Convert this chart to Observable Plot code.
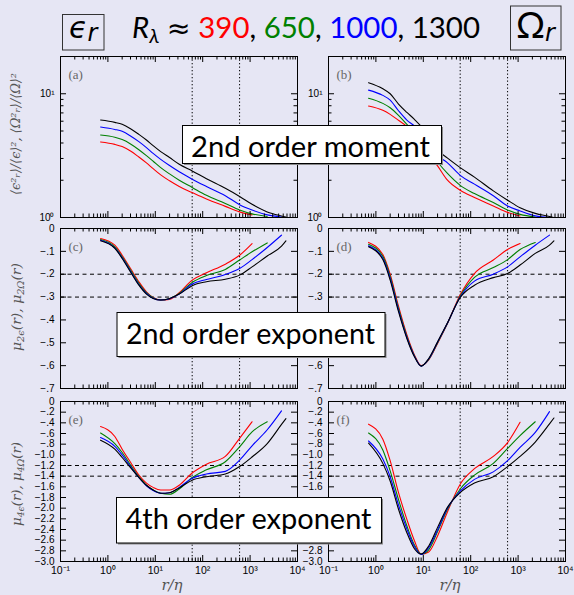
<!DOCTYPE html>
<html><head><meta charset="utf-8">
<script src="https://cdn.jsdelivr.net/npm/d3@7"></script>
<script src="https://cdn.jsdelivr.net/npm/@observablehq/plot@0.6"></script>
<style>
html,body{margin:0;padding:0;background:#e6e6f4;}
#wrap{position:relative;width:574px;height:595px;background:#e6e6f4;overflow:hidden;}
#wrap svg{position:absolute;overflow:visible;}
</style></head><body><div id="wrap"></div>
<script>
// ---------------- data ----------------
const rEta = [0.7, 1.4, 2, 3, 4.5, 6.5, 9, 13, 20, 32, 60, 120, 300, 600, 1100, 2300, 4600, 5700];
const seriesNames = ["390", "650", "1000", "1300"];
const seriesColors = ["#ff0000", "#008000", "#0000ff", "#000000"];

// (a) <eps_r^2>/<eps>^2
const momEps390  = [4.08, 3.90, 3.74, 3.45, 3.08, 2.76, 2.48, 2.21, 1.98, 1.78, 1.59, 1.41, 1.23, 1.11, 1.05];
const momEps650  = [4.64, 4.45, 4.26, 3.93, 3.53, 3.16, 2.85, 2.53, 2.25, 2.00, 1.75, 1.51, 1.30, 1.15, 1.07, 1.02];
const momEps1000 = [5.39, 5.15, 4.97, 4.56, 4.10, 3.67, 3.30, 2.95, 2.63, 2.34, 2.04, 1.78, 1.50, 1.27, 1.15, 1.05, 1.01];
const momEps1300 = [6.13, 5.87, 5.66, 5.22, 4.70, 4.23, 3.81, 3.41, 3.05, 2.69, 2.38, 2.06, 1.72, 1.48, 1.28, 1.11, 1.03, 1.01];
// (b) <Om_r^2>/<Om>^2
const momOm390  = [7.95, 7.34, 6.81, 6.10, 5.42, 4.56, 3.90, 3.24, 2.61, 2.01, 1.66, 1.45, 1.24, 1.10, 1.03];
const momOm650  = [9.20, 8.36, 7.71, 6.69, 5.66, 4.91, 4.28, 3.49, 2.81, 2.28, 1.82, 1.56, 1.32, 1.15, 1.06, 1.01];
const momOm1000 = [10.7, 9.70, 8.89, 7.29, 6.13, 5.49, 4.85, 3.95, 3.18, 2.78, 2.19, 1.86, 1.50, 1.24, 1.13, 1.03, 1.00];
const momOm1300 = [12.27, 10.97, 10.0, 8.26, 7.07, 6.21, 5.45, 4.48, 3.51, 3.03, 2.53, 2.12, 1.64, 1.38, 1.20, 1.08, 1.02, 1.00];
// (c) mu_2eps
const mu2Eps390  = [-0.044, -0.073, -0.117, -0.175, -0.233, -0.277, -0.302, -0.313, -0.310, -0.281, -0.226, -0.194, -0.156, -0.117, -0.066];
const mu2Eps650  = [-0.048, -0.080, -0.124, -0.182, -0.240, -0.281, -0.303, -0.313, -0.307, -0.284, -0.236, -0.206, -0.179, -0.138, -0.102, -0.063];
const mu2Eps1000 = [-0.051, -0.085, -0.128, -0.187, -0.245, -0.284, -0.305, -0.313, -0.307, -0.287, -0.243, -0.223, -0.201, -0.175, -0.136, -0.083, -0.029];
const mu2Eps1300 = [-0.054, -0.087, -0.131, -0.190, -0.248, -0.287, -0.306, -0.313, -0.306, -0.287, -0.250, -0.233, -0.222, -0.204, -0.168, -0.120, -0.077, -0.054];
// (d) mu_2Om
const mu2Om390  = [-0.061, -0.114, -0.200, -0.340, -0.465, -0.553, -0.600, -0.575, -0.503, -0.418, -0.290, -0.197, -0.138, -0.092, -0.066];
const mu2Om650  = [-0.069, -0.122, -0.210, -0.350, -0.472, -0.557, -0.601, -0.573, -0.500, -0.417, -0.296, -0.214, -0.171, -0.136, -0.092, -0.061];
const mu2Om1000 = [-0.076, -0.130, -0.218, -0.357, -0.477, -0.559, -0.602, -0.571, -0.498, -0.416, -0.300, -0.230, -0.200, -0.168, -0.124, -0.073, -0.029];
const mu2Om1300 = [-0.080, -0.136, -0.226, -0.364, -0.481, -0.561, -0.602, -0.569, -0.496, -0.415, -0.302, -0.248, -0.215, -0.197, -0.160, -0.109, -0.073, -0.054];
// (e) mu_4eps
const mu4Eps390  = [-0.47, -0.656, -0.894, -1.14, -1.38, -1.53, -1.61, -1.66, -1.66, -1.57, -1.34, -1.175, -1.03, -0.69, -0.38];
const mu4Eps650  = [-0.59, -0.79, -0.956, -1.19, -1.41, -1.57, -1.66, -1.72, -1.74, -1.64, -1.425, -1.28, -1.13, -0.85, -0.57, -0.38];
const mu4Eps1000 = [-0.675, -0.84, -1.00, -1.22, -1.425, -1.58, -1.67, -1.72, -1.71, -1.61, -1.44, -1.36, -1.31, -1.10, -0.83, -0.53, -0.175];
const mu4Eps1300 = [-0.725, -0.894, -1.05, -1.24, -1.425, -1.57, -1.66, -1.72, -1.71, -1.62, -1.475, -1.41, -1.36, -1.22, -1.04, -0.79, -0.43, -0.32];
// (f) mu_4Om
const mu4Om390  = [-0.425, -0.706, -1.11, -1.71, -2.21, -2.61, -2.86, -2.82, -2.52, -2.08, -1.55, -1.26, -1.03, -0.77, -0.39];
const mu4Om650  = [-0.59, -0.91, -1.30, -1.84, -2.33, -2.69, -2.86, -2.78, -2.44, -2.03, -1.64, -1.38, -1.16, -0.88, -0.64, -0.38];
const mu4Om1000 = [-0.74, -1.08, -1.41, -1.94, -2.39, -2.72, -2.87, -2.74, -2.41, -2.01, -1.68, -1.46, -1.32, -1.11, -0.86, -0.58, -0.19];
const mu4Om1300 = [-0.78, -1.16, -1.49, -2.02, -2.46, -2.76, -2.86, -2.71, -2.36, -1.99, -1.71, -1.53, -1.41, -1.22, -1.03, -0.76, -0.42, -0.31];

// reference lines and ticks
const vLines = [60, 600];
const hLines2 = [-0.2, -0.3];
const hLines4 = [-1.2, -1.4];
const xMajor = [0.1, 1, 10, 100, 1000, 10000];
const xMinor = [0.2,0.3,0.4,0.5,0.6,0.7,0.8,0.9, 2,3,4,5,6,7,8,9, 20,30,40,50,60,70,80,90, 200,300,400,500,600,700,800,900, 2000,3000,4000,5000,6000,7000,8000,9000];
const yMajorMom = [1, 10];
const yMinorMom = [2,3,4,5,6,7,8,9];
const yTicks2 = [0, -0.1, -0.2, -0.3, -0.4, -0.5, -0.6, -0.7];
const yTicks4 = [0, -0.2, -0.4, -0.6, -0.8, -1.0, -1.2, -1.4, -1.6, -1.8, -2.0, -2.2, -2.4, -2.6, -2.8, -3.0];
// labels of the right-hand panels that sit under the overlay boxes are not shown
const yLabels2Right = [0, -0.1, -0.2, -0.3, -0.6, -0.7];
const yLabels4Right = [0, -0.2, -0.4, -0.6, -0.8, -1.0, -1.2, -1.4, -1.6, -2.8, -3.0];
const supMap = {"-1":"⁻¹","0":"⁰","1":"¹","2":"²","3":"³","4":"⁴"};
const fmtPow = d => "10" + supMap[String(Math.round(Math.log10(d)))];
const fmtLin = d => d === 0 ? "0" : "−" + Math.abs(d).toFixed(1).replace(/^0/, "");

// ---------------- layout ----------------
const wrap = document.getElementById("wrap");
const colsX = [{left:0, width:300, mL:60, mR:3}, {left:300, width:274, mL:28, mR:9}];
const rowsY = [{top:46, height:179, mT:10, mB:8}, {top:218, height:178, mT:10, mB:8}, {top:391, height:204, mT:10, mB:34}];

function panel(cfg) {
  const C = colsX[cfg.col], R = rowsY[cfg.row];
  const fh = R.height - R.mT - R.mB, fw = C.width - C.mL - C.mR;
  const marks = [];
  marks.push(Plot.ruleX(vLines, {stroke:"#000", strokeWidth:1, strokeDasharray:"1.3,2.2"}));
  if (cfg.hLines) marks.push(Plot.ruleY(cfg.hLines, {stroke:"#000", strokeWidth:1, strokeDasharray:"4,3.5"}));
  cfg.series.forEach((arr, k) => {
    const rows = arr.map((v, i) => ({r: rEta[i], v, s: seriesNames[k]}));
    marks.push(Plot.line(rows, {x:"r", y:"v", stroke: seriesColors[k], strokeWidth:1.1, curve:"monotone-x"}));
  });
  // inward ticks, all four sides
  marks.push(
    Plot.ruleX(xMajor, {stroke:"#000", insetBottom: fh - 6}),
    Plot.ruleX(xMajor, {stroke:"#000", insetTop: fh - 6}),
    Plot.ruleX(xMinor, {stroke:"#000", insetBottom: fh - 3.5}),
    Plot.ruleX(xMinor, {stroke:"#000", insetTop: fh - 3.5}),
    Plot.ruleY(cfg.yTicks, {stroke:"#000", insetRight: fw - 6}),
    Plot.ruleY(cfg.yTicks, {stroke:"#000", insetLeft: fw - 6})
  );
  if (cfg.yMinor) marks.push(
    Plot.ruleY(cfg.yMinor, {stroke:"#000", insetRight: fw - 3.5}),
    Plot.ruleY(cfg.yMinor, {stroke:"#000", insetLeft: fw - 3.5})
  );
  marks.push(Plot.frame({stroke:"#000", strokeWidth:1}));
  marks.push(Plot.axisY({ticks: cfg.yLabels || cfg.yTicks, tickFormat: cfg.yFmt, tickSize:0, tickPadding:6, anchor:"left", label:null, fontSize:10}));
  if (cfg.row === 2) marks.push(Plot.axisX({ticks: xMajor, tickFormat: fmtPow, tickSize:0, tickPadding:5, anchor:"bottom", label:null, fontSize:10.5}));
  marks.push(Plot.text([cfg.label], {frameAnchor:"top-left", dx:8, dy:18, lineAnchor:"middle", fontFamily:"Liberation Serif, serif", fontSize:13, fill:"#666"}));
  const svg = Plot.plot({
    width: C.width, height: R.height,
    marginLeft: C.mL, marginRight: C.mR, marginTop: R.mT, marginBottom: R.mB,
    x: {type:"log", domain:[0.1, 10000], axis:null, label:null},
    y: {type: cfg.yType, domain: cfg.yDomain, axis:null, label:null},
    style: {background:"transparent", fontFamily:"Liberation Sans, Arial, sans-serif", fontSize:"10px", color:"#000", overflow:"visible"},
    marks
  });
  svg.style.position = "absolute";
  svg.style.left = C.left + "px";
  svg.style.top = R.top + "px";
  wrap.appendChild(svg);
}

panel({col:0, row:0, label:"(a)", series:[momEps390, momEps650, momEps1000, momEps1300], yType:"log", yDomain:[1, 20], yTicks:yMajorMom, yMinor:yMinorMom, yFmt:fmtPow});
panel({col:1, row:0, label:"(b)", series:[momOm390, momOm650, momOm1000, momOm1300], yType:"log", yDomain:[1, 20], yTicks:yMajorMom, yMinor:yMinorMom, yFmt:fmtPow});
panel({col:0, row:1, label:"(c)", series:[mu2Eps390, mu2Eps650, mu2Eps1000, mu2Eps1300], yType:"linear", yDomain:[-0.7, 0], yTicks:yTicks2, yFmt:fmtLin, hLines:hLines2});
panel({col:1, row:1, label:"(d)", series:[mu2Om390, mu2Om650, mu2Om1000, mu2Om1300], yType:"linear", yDomain:[-0.7, 0], yTicks:yTicks2, yLabels:yLabels2Right, yFmt:fmtLin, hLines:hLines2});
panel({col:0, row:2, label:"(e)", series:[mu4Eps390, mu4Eps650, mu4Eps1000, mu4Eps1300], yType:"linear", yDomain:[-3, 0], yTicks:yTicks4, yFmt:fmtLin, hLines:hLines4});
panel({col:1, row:2, label:"(f)", series:[mu4Om390, mu4Om650, mu4Om1000, mu4Om1300], yType:"linear", yDomain:[-3, 0], yTicks:yTicks4, yLabels:yLabels4Right, yFmt:fmtLin, hLines:hLines4});

// ---------------- overlay text ----------------
const NS = "http://www.w3.org/2000/svg";
const ov = document.createElementNS(NS, "svg");
ov.setAttribute("width", 574); ov.setAttribute("height", 595);
ov.style.left = "0px"; ov.style.top = "0px";
const sans = "Lato, 'Liberation Sans', sans-serif";
const serif = "'DejaVu Serif', 'Liberation Serif', serif";
function boxLabel(x, y, w, h, text, cx, base, len) {
  return `<rect x="${x+1.5}" y="${y+1.5}" width="${w}" height="${h}" fill="#8a8a8a"/>
  <rect x="${x}" y="${y}" width="${w}" height="${h}" fill="#fff" stroke="#000" stroke-width="1"/>
  <text x="${cx}" y="${base}" text-anchor="middle" font-family="${sans}" font-size="29" fill="#000" textLength="${len}" lengthAdjust="spacingAndGlyphs">${text}</text>`;
}
ov.innerHTML = `
  <rect x="62.5" y="14.5" width="41.5" height="35.5" fill="none" stroke="#333" stroke-width="1"/>
  <text x="69" y="37.5" font-family="'DejaVu Sans', sans-serif" font-style="italic" font-size="30" fill="#000">ϵ<tspan font-size="24" dy="3">r</tspan></text>
  <rect x="510.5" y="6" width="50.5" height="44" fill="none" stroke="#333" stroke-width="1"/>
  <text x="516" y="37.5" font-family="${sans}" font-size="36" fill="#000">Ω<tspan font-family="'DejaVu Sans', sans-serif" font-style="italic" font-size="24" dy="3">r</tspan></text>
  <text x="132" y="37.5" font-family="${sans}" font-size="29" fill="#000" textLength="348" lengthAdjust="spacingAndGlyphs"><tspan font-style="italic">R</tspan><tspan font-style="italic" font-size="20" dy="5">λ</tspan><tspan dy="-5"> </tspan><tspan font-family="'DejaVu Sans', sans-serif" font-size="28">≈</tspan> <tspan fill="#ff0000">390</tspan>, <tspan fill="#008000">650</tspan>, <tspan fill="#0000ff">1000</tspan>, 1300</text>

  <text transform="translate(20,134) rotate(-90)" text-anchor="middle" font-family="${serif}" font-style="italic" font-size="13" fill="#555" textLength="122" lengthAdjust="spacingAndGlyphs">⟨ϵ²ᵣ⟩/⟨ϵ⟩²,  ⟨Ω²ᵣ⟩/⟨Ω⟩²</text>
  <text transform="translate(21,307) rotate(-90)" text-anchor="middle" font-family="${serif}" font-style="italic" font-size="13" fill="#555" textLength="88" lengthAdjust="spacingAndGlyphs">μ<tspan font-size="9" dy="2.5">2ϵ</tspan><tspan dy="-2.5">(r),  μ</tspan><tspan font-size="9" dy="2.5">2Ω</tspan><tspan dy="-2.5">(r)</tspan></text>
  <text transform="translate(21,484) rotate(-90)" text-anchor="middle" font-family="${serif}" font-style="italic" font-size="13" fill="#555" textLength="84" lengthAdjust="spacingAndGlyphs">μ<tspan font-size="9" dy="2.5">4ϵ</tspan><tspan dy="-2.5">(r),  μ</tspan><tspan font-size="9" dy="2.5">4Ω</tspan><tspan dy="-2.5">(r)</tspan></text>

  <text x="172" y="590" text-anchor="middle" font-family="${serif}" font-style="italic" font-size="15" fill="#555">r/η</text>
  <text x="450" y="590" text-anchor="middle" font-family="${serif}" font-style="italic" font-size="15" fill="#555">r/η</text>

  ${boxLabel(182.5, 125.5, 259, 38, "2nd order moment", 310.5, 156.5, 239)}
  ${boxLabel(117, 312.5, 268, 44, "2nd order exponent", 250.5, 343.5, 249)}
  ${boxLabel(116.5, 497.5, 265, 45.5, "4th order exponent", 248.5, 528.5, 246)}
`;
wrap.appendChild(ov);
</script></body></html>
